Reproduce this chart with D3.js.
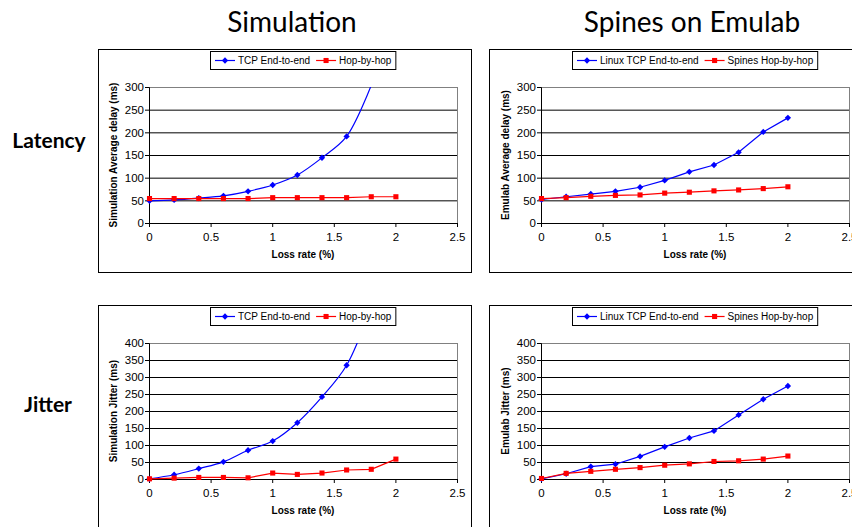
<!DOCTYPE html>
<html>
<head>
    <meta charset="utf-8" />
    <title>Latency and Jitter</title>
    <script src="https://cdn.jsdelivr.net/npm/d3@7"></script>
    <style>
        body { margin: 0; background: #fff; }
        .tick text { font-family: "Liberation Sans", Arial, sans-serif; font-size: 11.5px; fill: #000; }
    </style>
</head>
<body>

    <svg width="852" height="527"></svg>

    <script>

     // loss rate points (%) shared by all four charts
     let lossRates = [0, 0.2, 0.4, 0.6, 0.8, 1.0, 1.2, 1.4, 1.6, 1.8, 2.0];
     let xTicks = [0, 0.5, 1, 1.5, 2, 2.5];
     let delayTicks = [0, 50, 100, 150, 200, 250, 300];
     let jitterTicks = [0, 50, 100, 150, 200, 250, 300, 350, 400];

     let columnTitles = ["Simulation", "Spines on Emulab"];
     let rowTitles = ["Latency", "Jitter"];
     let simNames = ["TCP End-to-end", "Hop-by-hop"];
     let emuNames = ["Linux TCP End-to-end", "Spines Hop-by-hop"];

     // latency (ms)
     let simDelayTcp = [50, 52, 56, 61, 71, 85, 107, 145, 192, 305];
     let simDelayHop = [55, 55, 55, 55, 55, 57, 57, 57, 57, 59, 59];
     let emuDelayTcp = [53, 59, 65, 71, 80, 95, 114, 129, 157, 202, 233];
     let emuDelayHop = [55, 57, 60, 62, 63, 67, 69, 72, 74, 77, 81];

     // jitter (ms)
     let simJitterTcp = [2, 14, 32, 52, 86, 113, 167, 243, 336, 510];
     let simJitterHop = [2, 4, 6, 6, 5, 19, 15, 19, 28, 30, 60];
     let emuJitterTcp = [2, 17, 38, 45, 68, 96, 122, 143, 190, 236, 275];
     let emuJitterHop = [3, 18, 24, 30, 35, 42, 46, 53, 55, 60, 69];

     let svg = d3.select("svg");
     let font = "'Liberation Sans', Arial, sans-serif";
     let titleFont = "Lato, 'Open Sans', sans-serif";

     let innerWidth = 308;
     let innerHeight = 136;
     let blue = "#0000ff";
     let red = "#ff0000";

     // excel style diamond (square turned 45 degrees)
     let diamond = {draw: (ctx, size) => {
        let r = Math.sqrt(size / 2);
        ctx.moveTo(0, -r); ctx.lineTo(r, 0); ctx.lineTo(0, r); ctx.lineTo(-r, 0); ctx.closePath();
     }};
     let diamondSym = d3.symbol(diamond, 20);
     let square = d3.symbol(d3.symbolSquare, 26);

     let panelCount = 0;

     const drawPanel = (fx, fy, px, yTicks, yTitle, names, tcp, hop, smooth) => {
        panelCount++;
        let py = fy + 38;

        // outer chart frame
        svg.append("rect")
           .attr("x", fx + 0.5).attr("y", fy + 0.5)
           .attr("width", 373).attr("height", 223)
           .attr("fill", "#fff").attr("stroke", "#000");

        let xScale = d3.scaleLinear().domain([0, 2.5]).range([0, innerWidth]);
        let yMax = yTicks[yTicks.length - 1];
        let yScale = d3.scaleLinear().domain([0, yMax]).range([innerHeight, 0]);

        const g = svg.append("g").attr("transform", `translate(${px},${py})`);

        // gridlines
        g.selectAll(".grid").data(yTicks.slice(1, -1))
         .enter().append("line")
          .attr("x1", 0).attr("x2", innerWidth)
          .attr("y1", d => yScale(d) + 0.5).attr("y2", d => yScale(d) + 0.5)
          .attr("stroke", "#000");

        // plot area border
        g.append("rect")
         .attr("x", 0.5).attr("y", 0.5)
         .attr("width", innerWidth).attr("height", innerHeight)
         .attr("fill", "none").attr("stroke", "#808080");

        const yAxisG = g.append("g")
           .call(d3.axisLeft(yScale).tickValues(yTicks).tickSize(4).tickPadding(1).tickFormat(d3.format("d")));
        yAxisG.selectAll("path, line").attr("stroke", "#000");

        const xAxisG = g.append("g")
           .attr("transform", `translate(0,${innerHeight})`)
           .call(d3.axisBottom(xScale).tickValues(xTicks).tickSize(4).tickPadding(6).tickFormat(d => d));
        xAxisG.selectAll("path, line").attr("stroke", "#000");

        // axis titles
        g.append("text")
         .attr("x", innerWidth / 2).attr("y", 171)
         .attr("text-anchor", "middle")
         .attr("font-family", font).attr("font-size", 10).attr("font-weight", "bold")
         .text("Loss rate (%)");

        g.append("text")
         .attr("transform", `translate(-32,${innerHeight / 2}) rotate(-90)`)
         .attr("text-anchor", "middle")
         .attr("font-family", font).attr("font-size", 10).attr("font-weight", "bold")
         .text(yTitle);

        // lines, clipped to plot area
        let clipId = "clip" + panelCount;
        g.append("clipPath").attr("id", clipId)
         .append("rect").attr("x", 0).attr("y", 0)
         .attr("width", innerWidth + 1).attr("height", innerHeight + 1);

        let series = [
            {values: tcp, color: blue, sym: diamondSym, curve: smooth ? d3.curveCatmullRom : d3.curveLinear},
            {values: hop, color: red, sym: square, curve: d3.curveLinear}
        ];

        series.forEach(s => {
            let pts = s.values.map((v, i) => [lossRates[i], v]);
            let line = d3.line()
                .x(d => xScale(d[0]) + 0.5)
                .y(d => yScale(d[1]) + 0.5)
                .curve(s.curve);
            g.append("path")
             .datum(pts)
             .attr("clip-path", `url(#${clipId})`)
             .attr("d", line)
             .attr("fill", "none")
             .attr("stroke", s.color)
             .attr("stroke-width", 1.2);
            g.selectAll(null).data(pts.filter(d => d[1] <= yMax))
             .enter().append("path")
              .attr("transform", d => `translate(${xScale(d[0]) + 0.5},${yScale(d[1]) + 0.5})`)
              .attr("d", s.sym)
              .attr("fill", s.color);
        });

        // legend
        const lg = svg.append("g");
        const box = lg.append("rect")
            .attr("y", fy + 2.5).attr("height", 18)
            .attr("fill", "#fff").attr("stroke", "#000");
        let cx = 5;
        series.forEach((s, i) => {
            lg.append("line")
              .attr("x1", cx).attr("x2", cx + 20)
              .attr("y1", fy + 11.5).attr("y2", fy + 11.5)
              .attr("stroke", s.color).attr("stroke-width", 1.2);
            lg.append("path")
              .attr("transform", `translate(${cx + 10},${fy + 11.5})`)
              .attr("d", s.sym).attr("fill", s.color);
            let t = lg.append("text")
              .attr("x", cx + 23).attr("y", fy + 15)
              .attr("font-family", font).attr("font-size", 10)
              .text(names[i]);
            cx += 23 + t.node().getComputedTextLength() + 6;
        });
        let lw = cx - 2;
        box.attr("x", 0.5).attr("width", lw);
        let left = Math.round(px + innerWidth / 2 - lw / 2);
        lg.attr("transform", `translate(${left},0)`);
     }

     drawPanel(98, 49, 149, delayTicks, "Simulation Average delay (ms)", simNames, simDelayTcp, simDelayHop, true);
     drawPanel(489, 49, 541, delayTicks, "Emulab Average delay (ms)", emuNames, emuDelayTcp, emuDelayHop, false);
     drawPanel(98, 305, 149, jitterTicks, "Simulation Jitter (ms)", simNames, simJitterTcp, simJitterHop, true);
     drawPanel(489, 305, 541, jitterTicks, "Emulab Jitter (ms)", emuNames, emuJitterTcp, emuJitterHop, false);

     // column and row headings
     svg.selectAll(".colTitle").data(columnTitles)
        .enter().append("text")
        .attr("x", (d, i) => [292, 692][i]).attr("y", 32)
        .attr("text-anchor", "middle")
        .attr("font-family", titleFont).attr("font-size", 28)
        .text(d => d);

     svg.selectAll(".rowTitle").data(rowTitles)
        .enter().append("text")
        .attr("x", (d, i) => [49, 48][i]).attr("y", (d, i) => [148, 412][i])
        .attr("text-anchor", "middle")
        .attr("font-family", titleFont).attr("font-size", 21).attr("font-weight", "bold")
        .text(d => d);

    </script>
</body>
</html>
